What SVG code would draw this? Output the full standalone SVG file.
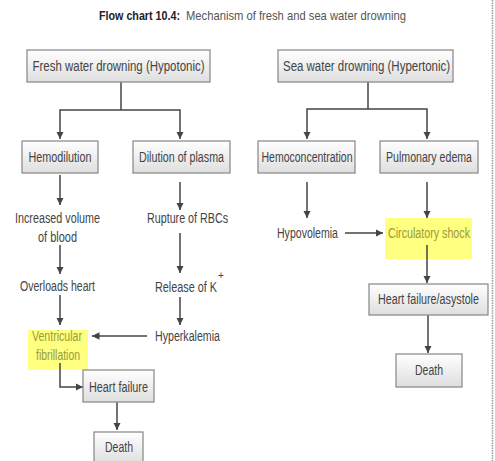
<svg xmlns="http://www.w3.org/2000/svg" width="495" height="461" viewBox="0 0 495 461">
<style>
.t{font-family:"Liberation Sans",Arial,sans-serif;font-size:14px;fill:#444;text-anchor:middle;dominant-baseline:central}
.ti{font-family:"Liberation Sans",Arial,sans-serif;font-size:13.5px;fill:#555;dominant-baseline:central}
.hl{fill:#9a9a3a}
.box{fill:url(#g);stroke:#8e8e8e;stroke-width:1.3}
.c{fill:none;stroke:#444;stroke-width:1.5;marker-end:url(#a)}
.n{fill:none;stroke:#444;stroke-width:1.5}
.yel{fill:#ffff80}
</style>
<defs>
<linearGradient id="g" x1="0" y1="0" x2="0" y2="1">
<stop offset="0" stop-color="#ffffff"/>
<stop offset="1" stop-color="#dedede"/>
</linearGradient>
<marker id="a" viewBox="0 0 10 10" refX="10" refY="5" markerWidth="5" markerHeight="5" orient="auto" markerUnits="strokeWidth">
<path d="M0,0 L10,5 L0,10 z" fill="#444"/>
</marker>
</defs>
<rect width="495" height="461" fill="#fff"/>
<line x1="492.5" y1="0" x2="492.5" y2="461" stroke="#999" stroke-width="1.5" stroke-dasharray="1.5,1"/>
<g id="title">
<text class="ti" x="99" y="15" textLength="81" lengthAdjust="spacingAndGlyphs" font-weight="bold" style="fill:#222">Flow chart 10.4:</text>
<text class="ti" x="186" y="15" textLength="220" lengthAdjust="spacingAndGlyphs">Mechanism of fresh and sea water drowning</text>
</g>

<g id="highlights">
<rect class="yel" x="28" y="330" width="60" height="40"/>
<rect class="yel" x="385" y="218" width="87" height="41"/>
</g>

<g id="connectors">
<path class="n" d="M121,82 V110"/>
<path class="c" d="M121,110 H60 V139"/>
<path class="c" d="M121,110 H180 V139"/>
<path class="n" d="M368,82 V109"/>
<path class="c" d="M368,109 H307 V139"/>
<path class="c" d="M368,109 H427 V139"/>
<path class="c" d="M60,175 V205"/>
<path class="c" d="M180,182 V210"/>
<path class="c" d="M60,245 V274"/>
<path class="c" d="M180,233 V273"/>
<path class="c" d="M60,295 V325"/>
<path class="c" d="M180,297 V325"/>
<path class="c" d="M147,336 H92"/>
<path class="c" d="M60,363 V387 H83"/>
<path class="c" d="M117,402 V430"/>
<path class="c" d="M307,182 V218"/>
<path class="c" d="M345,233 H383"/>
<path class="c" d="M427,182 V218"/>
<path class="c" d="M427,245 V283"/>
<path class="c" d="M428,315 V353"/>
</g>

<g id="fresh"><rect class="box" x="27" y="50" width="183" height="32"/><text class="t" x="118.5" y="66" textLength="172" lengthAdjust="spacingAndGlyphs">Fresh water drowning (Hypotonic)</text></g>
<g id="sea"><rect class="box" x="278" y="50" width="175" height="32"/><text class="t" x="366.5" y="66" textLength="167" lengthAdjust="spacingAndGlyphs">Sea water drowning (Hypertonic)</text></g>

<g id="hemodilution"><rect class="box" x="22" y="141" width="76" height="32"/><text class="t" x="60" y="157" textLength="63" lengthAdjust="spacingAndGlyphs">Hemodilution</text></g>
<g id="dilution"><rect class="box" x="133" y="141" width="97" height="32"/><text class="t" x="181.5" y="157" textLength="85" lengthAdjust="spacingAndGlyphs">Dilution of plasma</text></g>
<g id="hemoconc"><rect class="box" x="258" y="141" width="97" height="32"/><text class="t" x="307" y="157" textLength="91" lengthAdjust="spacingAndGlyphs">Hemoconcentration</text></g>
<g id="pulmonary"><rect class="box" x="380" y="141" width="98" height="32"/><text class="t" x="429" y="157" textLength="86" lengthAdjust="spacingAndGlyphs">Pulmonary edema</text></g>

<g id="increased"><text class="t" x="57.5" y="218" textLength="85" lengthAdjust="spacingAndGlyphs">Increased volume</text><text class="t" x="57.5" y="237" textLength="39" lengthAdjust="spacingAndGlyphs">of blood</text></g>
<g id="rupture"><text class="t" x="187.5" y="218" textLength="81" lengthAdjust="spacingAndGlyphs">Rupture of RBCs</text></g>
<g id="overloads"><text class="t" x="57.5" y="286" textLength="75" lengthAdjust="spacingAndGlyphs">Overloads heart</text></g>
<g id="release"><text class="t" x="186" y="287" textLength="62" lengthAdjust="spacingAndGlyphs">Release of K</text><text class="t" x="221" y="275" style="font-size:10px">+</text></g>
<g id="ventricular"><text class="t hl" x="57" y="336" textLength="50" lengthAdjust="spacingAndGlyphs">Ventricular</text><text class="t hl" x="58" y="355" textLength="44" lengthAdjust="spacingAndGlyphs">fibrillation</text></g>
<g id="hyperkalemia"><text class="t" x="187.5" y="336" textLength="65" lengthAdjust="spacingAndGlyphs">Hyperkalemia</text></g>
<g id="heartfailure"><rect class="box" x="83" y="370" width="71" height="32"/><text class="t" x="118.5" y="387" textLength="59" lengthAdjust="spacingAndGlyphs">Heart failure</text></g>
<g id="death1"><rect class="box" x="94" y="432" width="49" height="32"/><text class="t" x="119" y="447" textLength="28" lengthAdjust="spacingAndGlyphs">Death</text></g>

<g id="hypovolemia"><text class="t" x="307.5" y="233" textLength="61" lengthAdjust="spacingAndGlyphs">Hypovolemia</text></g>
<g id="circulatory"><text class="t hl" x="429" y="233" textLength="82" lengthAdjust="spacingAndGlyphs">Circulatory shock</text></g>
<g id="heartfailure2"><rect class="box" x="369" y="284" width="119" height="31"/><text class="t" x="428.5" y="299" textLength="101" lengthAdjust="spacingAndGlyphs">Heart failure/asystole</text></g>
<g id="death2"><rect class="box" x="396" y="354" width="66" height="33"/><text class="t" x="429" y="370" textLength="28" lengthAdjust="spacingAndGlyphs">Death</text></g>
</svg>
